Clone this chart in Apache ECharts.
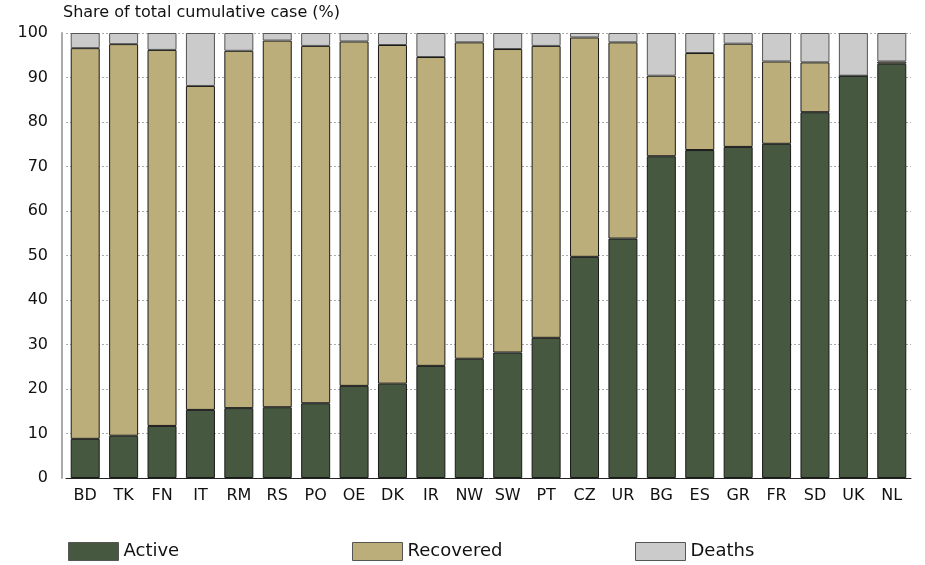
<!DOCTYPE html>
<html><head><meta charset="utf-8">
<script src="https://cdn.jsdelivr.net/npm/echarts@6/dist/echarts.min.js"></script>
<style>html,body{margin:0;padding:0;background:#fff}#c{width:925px;height:565px}</style>
</head><body><div id="c"></div>
<script>
const categories = ['BD','TK','FN','IT','RM','RS','PO','OE','DK','IR','NW','SW','PT','CZ','UR','BG','ES','GR','FR','SD','UK','NL'];
const active =    [8.8, 9.5, 11.7, 15.3, 15.7, 15.9, 16.8, 20.7, 21.2, 25.2, 26.8, 28.2, 31.5, 49.7, 53.8, 72.3, 73.7, 74.4, 75.1, 82.2, 90.4, 93.1];
const recovered = [87.8, 88.0, 84.5, 72.8, 80.3, 82.4, 80.3, 77.4, 76.1, 69.4, 71.1, 68.2, 65.6, 49.3, 44.1, 18.1, 21.8, 23.2, 18.5, 11.2, 0.0, 0.5];
const deaths =    [3.4, 2.5, 3.8, 11.9, 4.0, 1.7, 2.9, 1.9, 2.7, 5.4, 2.1, 3.6, 2.9, 1.0, 2.1, 9.6, 4.5, 2.4, 6.4, 6.6, 9.6, 6.4];
const yTicks = [0,10,20,30,40,50,60,70,80,90,100];

const font = 'DejaVu Sans';
const chart = echarts.init(document.getElementById('c'), null, {renderer:'canvas'});
const mk = (name, data, color, border) => ({
  name, type:'bar', stack:'t', data, barWidth: 29,
  itemStyle:{color, borderColor:border, borderWidth:1},
  emphasis:{disabled:true}
});
const legendBase = {top: 537, itemWidth: 50, itemHeight: 18, icon:'rect',
  textStyle:{fontFamily:font, fontSize:18, color:'#111'}, itemStyle:{borderColor:'#555', borderWidth:1}};
chart.setOption({
  animation:false,
  title:{text:'Share of total cumulative case (%)', left:58, top:0,
    textStyle:{fontFamily:font, fontSize:16, fontWeight:'normal', color:'#111'}},
  grid:{left:66, right:14, top:33, bottom:87},
  legend:[
    Object.assign({}, legendBase, {left:63, data:['Active']}),
    Object.assign({}, legendBase, {left:347, data:['Recovered']}),
    Object.assign({}, legendBase, {left:630, data:['Deaths']})
  ],
  xAxis:{type:'category', data:categories,
    axisLine:{lineStyle:{color:'#222', width:1}},
    axisTick:{alignWithLabel:true, length:6, lineStyle:{color:'#444'}},
    axisLabel:{fontFamily:font, fontSize:16, color:'#111', margin:10}},
  yAxis:{type:'value', min:0, max:100, interval:10, offset:4,
    axisLine:{show:true, lineStyle:{color:'#aaa', width:2}},
    axisTick:{show:false},
    splitLine:{lineStyle:{color:'#aaa', type:[2,2], width:1}},
    axisLabel:{fontFamily:font, fontSize:16, color:'#111', margin:14,
      formatter: v => yTicks.includes(v) ? String(v) : ''}},
  series:[
    mk('Active', active, '#465840', '#1a1a1a'),
    mk('Recovered', recovered, '#bcae7a', '#1a1a1a'),
    mk('Deaths', deaths, '#cbcbcb', '#555')
  ]
});
</script></body></html>
